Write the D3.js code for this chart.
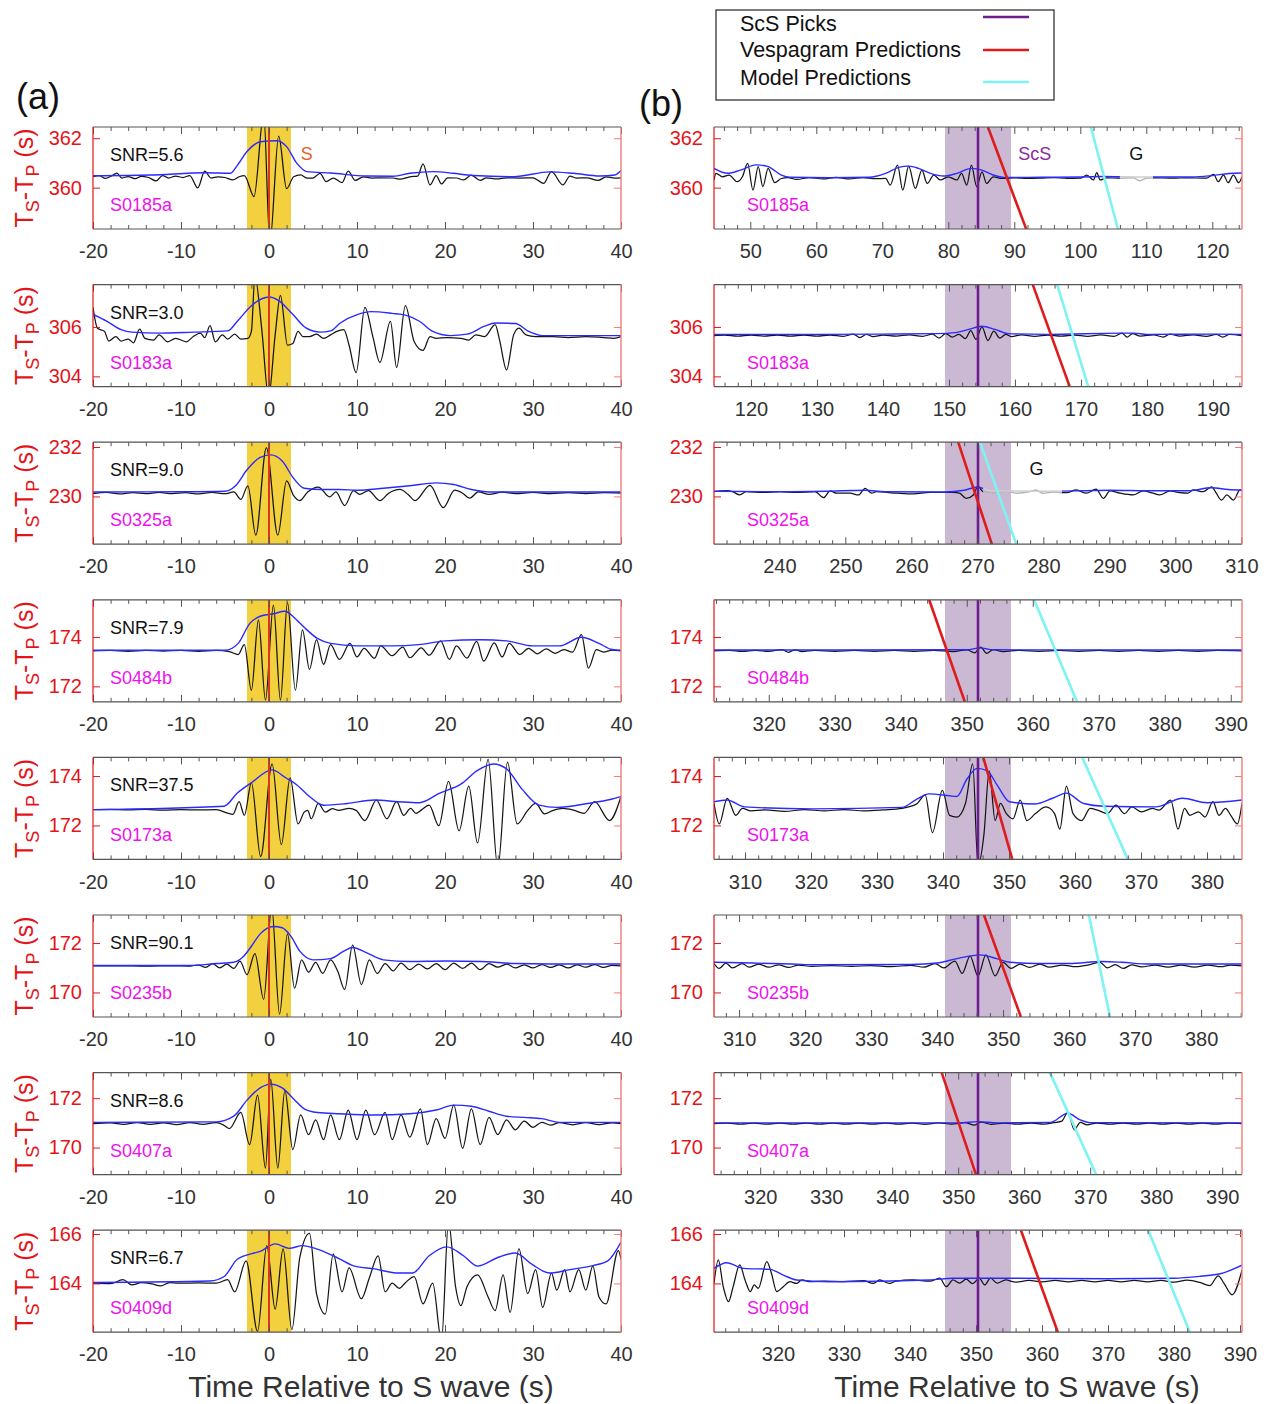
<!DOCTYPE html>
<html><head><meta charset="utf-8">
<script src="https://cdn.jsdelivr.net/npm/d3@7"></script>
<style>body{margin:0;background:#fff;} svg{display:block;font-family:"Liberation Sans",Arial,Helvetica,sans-serif;}</style>
</head><body><svg id="chart" width="1270" height="1404"></svg>
<script>
// ---------------- DATA ----------------
const stations = ["S0185a","S0183a","S0325a","S0484b","S0173a","S0235b","S0407a","S0409d"];
const snrValues = ["5.6","3.0","9.0","7.9","37.5","90.1","8.6","6.7"];
const tsTp = [360.39,305.65,230.13,173.44,172.69,171.07,170.97,164.09];
const yTickValues = [[360,362],[304,306],[230,232],[172,174],[172,174],[170,172],[170,172],[164,166]];
const leftXTicks = [-20,-10,0,10,20,30,40];
const rightXTicks = [
  [50,60,70,80,90,100,110,120],[120,130,140,150,160,170,180,190],
  [240,250,260,270,280,290,300,310],[320,330,340,350,360,370,380,390],
  [310,320,330,340,350,360,370,380],[310,320,330,340,350,360,370,380],
  [320,330,340,350,360,370,380,390],[320,330,340,350,360,370,380,390]];
const sWindow = [-2.5,2.5];
const sTime = 0;
const scsPick = [84.5,154.4,270.1,351.7,345.3,346.2,353.0,350.3];
const scsHalfWindow = 5;
const vespaPred = [[86.0,91.8],[162.7,168.3],[267.1,272.2],[344.3,349.7],[346.1,350.5],[347.1,352.7],[347.5,352.7],[356.8,362.4]];
const modelPred = [[101.6,105.7],[166.4,171.1],[270.4,275.9],[360.2,366.7],[361.1,368.0],[363.0,366.2],[363.9,370.9],[376.1,382.4]];
const grayWindow = [[106,111],null,[270.9,282.8],null,null,null,null,null];
const waveLabels = [
  {row:0, side:"L", t:3.6, text:"S", color:"#e8602c"},
  {row:0, side:"R", t:90.6, text:"ScS", color:"#8a2b9c"},
  {row:0, side:"R", t:107.4, text:"G", color:"#111"},
  {row:2, side:"R", t:277.9, text:"G", color:"#111"}];
const legendItems = ["ScS Picks","Vespagram Predictions","Model Predictions"];
const legendColors = ["#6c1d8e","#e01b1b","#7ff3f3"];

// left traces: [time, amplitude relative to Ts-Tp]
const L1 = [[-20,0.05],[-19.3,0.1],[-18.6,-0.02],[-17.9,0.08],[-17.3,0.2],[-16.7,0],[-16,0.06],[-15.2,-0.03],[-14.5,0.07],[-13.7,0.02],[-12.8,-0.12],[-12.1,0.1],[-11.4,0],[-10.6,0.08],[-9.8,0.02],[-9,0.1],[-8.1,-0.4],[-7.3,0.28],[-6.6,0],[-5.8,0.05],[-5,0.02],[-4.1,-0.08],[-3.4,0.05],[-2.8,0.1],[-1.7,-0.75],[-0.6,2.6],[0.1,-2.6],[1.1,1.7],[2,-0.43],[2.8,0.05],[3.6,0.13],[4.3,0],[5,0],[5.8,0.19],[6.5,-0.15],[7.3,0],[8.3,-0.19],[9,0.28],[9.8,-0.1],[10.7,0.05],[11.7,0],[12.6,0.01],[14.1,0],[14.9,-0.05],[16,0.05],[16.9,0.08],[17.5,0.57],[18.3,-0.28],[19,0.1],[19.6,-0.24],[20.3,0.01],[21.3,0],[22.1,-0.08],[23,0.12],[24,-0.1],[24.7,0.01],[25.9,-0.04],[27,0.01],[28.5,0],[30,0.01],[31.2,-0.22],[32.1,0.26],[33.4,-0.28],[34.2,0.08],[34.9,0],[36.1,0.01],[37.4,-0.1],[38.3,0.05],[39.3,0],[40,0.01]];
const LE1 = [[-20,0.09],[-13.5,0.12],[-7.1,0.21],[-4.4,0.19],[-3.7,0.46],[-2.5,1.07],[-1,1.47],[0.9,1.51],[2,1.27],[3.15,0.6],[4.3,0.26],[7,0.2],[11.1,0.08],[14.1,0.07],[16,0.19],[18.7,0.26],[20.9,0.19],[23.2,0.1],[27.8,0.05],[31.9,0.25],[34.6,0.19],[37.6,0.08],[39.3,0.12],[40,0.3]];
const L2 = [[-20,1.14],[-19.5,0.3],[-18.7,0.17],[-18.2,-0.22],[-17.4,-0.04],[-16.8,-0.22],[-16,-0.14],[-15.4,-0.29],[-14.7,0.26],[-14.1,-0.11],[-13.1,-0.18],[-12.5,0.03],[-11.5,-0.25],[-10.6,-0.11],[-9.4,-0.25],[-8.6,-0.04],[-7.8,0.1],[-7.3,-0.08],[-6.7,0.4],[-6.1,-0.25],[-5.3,0.03],[-4.7,-0.14],[-3.9,0.06],[-3.2,-0.14],[-2.4,-0.11],[-2,0.17],[-1.6,2.4],[-0.8,0.17],[-0.05,-2.5],[0.7,0.03],[1.3,1.63],[2.1,-0.39],[2.7,-0.32],[3.3,0.17],[3.85,-0.04],[4.6,-0.04],[5.4,0.06],[6.2,-0.11],[7,0.03],[7.7,0.17],[8.5,0.24],[9.1,-0.39],[9.9,-1.5],[10.9,1.14],[11.8,-0.04],[12.6,-1.08],[13.8,0.58],[14.5,-1.29],[15.5,1.21],[16.5,-0.25],[17.5,-0.6],[18.3,-0.04],[19,-0.11],[20.2,-0.08],[21.8,-0.11],[22.7,-0.18],[23.5,0.03],[24.5,-0.04],[25.7,0.44],[26.2,-0.18],[27,-1.39],[27.8,0.03],[28.4,0.3],[29.2,0.03],[30.3,-0.04],[32.3,-0.04],[34,-0.08],[36,-0.04],[38,-0.08],[39.2,-0.11],[40,-0.04]];
const LE2 = [[-20,0.86],[-18.4,0.58],[-16.8,0.24],[-15.6,0.14],[-12.5,0.1],[-8.6,0.14],[-4.7,0.19],[-3.6,0.58],[-2,1.21],[0,1.56],[1.1,1.42],[2.7,0.86],[4.2,0.31],[5.8,0.14],[7,0.19],[8.1,0.51],[10.1,0.86],[11.6,0.97],[14,0.9],[15.5,0.83],[17.1,0.58],[18.6,0.17],[20.6,0],[22.5,0.06],[24.5,0.38],[25.7,0.51],[28,0.49],[29.5,0.17],[31.1,0],[34,0],[40,0]];
const L3 = [[-20,-0.02],[-18.5,0.03],[-17,-0.03],[-15.5,0.02],[-14,-0.02],[-12.5,0.03],[-11,-0.02],[-9.5,0.02],[-8,-0.03],[-6.5,0.03],[-5,-0.02],[-4,0.05],[-3.2,-0.25],[-2.4,0.3],[-1.5,-1.7],[-0.3,1.85],[1,-1.7],[2,0.5],[2.8,-0.1],[3.5,-0.3],[4.4,0.05],[5.6,0.25],[6.9,-0.15],[7.6,0.05],[8.6,-0.5],[9.6,0.1],[10.3,-0.05],[11.3,0.1],[12.6,-0.3],[13.6,0],[14.9,0.15],[15.8,-0.05],[16.6,-0.3],[18.3,0.32],[19.8,-0.58],[21.1,0.12],[22,0],[22.8,-0.2],[23.8,0.05],[25,-0.05],[26.5,0.04],[28,-0.02],[30,0.03],[32,-0.02],[34,0.02],[36,-0.02],[38,0.02],[40,0]];
const LE3 = [[-20,0.05],[-10,0.06],[-5,0.08],[-3.8,0.3],[-2.5,0.95],[-1,1.45],[0.2,1.55],[1.5,1.3],[2.8,0.6],[4,0.2],[6,0.15],[8,0.15],[10,0.12],[13,0.2],[16,0.3],[19,0.42],[21,0.35],[23,0.15],[25,0.05],[30,0.05],[40,0.05]];
const L4 = [[-20,0],[-18,0.02],[-16,-0.02],[-14,0.02],[-12,-0.01],[-10,0.02],[-8,-0.02],[-6,0.02],[-4.5,-0.03],[-3.5,-0.15],[-2.8,0.25],[-2,-1.6],[-1.2,1.25],[-0.4,-2],[0.5,1.85],[1.3,-2],[2.1,1.95],[3,-1.6],[3.8,0.85],[4.6,-0.75],[5.4,0.45],[6.2,-0.55],[7,0.25],[8,-0.35],[9.2,0.3],[10,-0.25],[10.8,0.1],[12,-0.3],[12.7,0.2],[14,-0.2],[15.2,0.15],[16,-0.28],[17.3,0.12],[18.2,-0.18],[19.5,0.4],[20.5,-0.35],[21.3,0.2],[22.5,-0.3],[23.6,0.38],[24.4,-0.42],[25.6,0.32],[26.5,-0.25],[27.3,0.3],[28.5,-0.15],[29.5,0.1],[30.5,-0.12],[31.5,0.08],[32.5,-0.1],[33.5,0.05],[34.5,-0.05],[35.5,0.65],[36.3,-0.7],[37.2,0.05],[38,-0.05],[39,0.03],[40,0]];
const LE4 = [[-20,0.02],[-5,0.02],[-3.5,0.3],[-2.2,1.1],[-1,1.4],[0.5,1.5],[1.8,1.6],[3,1.3],[4,0.95],[5.5,0.5],[7,0.3],[10,0.2],[14,0.2],[17,0.25],[20,0.4],[24,0.45],[27,0.4],[30,0.2],[33,0.2],[35.5,0.55],[37.5,0.3],[39,0.05],[40,0.02]];
const L5 = [[-20,-0.05],[-18,-0.04],[-16,-0.06],[-14,-0.04],[-12,-0.07],[-10,-0.05],[-8,-0.06],[-6,-0.05],[-4.7,-0.19],[-4.1,-0.24],[-3.4,0.27],[-2.8,-0.28],[-2,1.04],[-0.95,-1.95],[0.35,1.8],[1.4,-1.47],[2.4,1.24],[3.3,-0.63],[4,-0.15],[4.4,-0.08],[4.8,-0.42],[5.6,0.2],[6.4,-0.15],[7.2,-0.01],[7.9,-0.08],[9.1,0],[9.9,-0.08],[10.9,-0.49],[12.2,0.34],[13.4,-0.42],[14.5,0.27],[15.3,-0.28],[16.1,0],[16.7,-0.2],[17.3,-0.07],[18.2,0.13],[19.3,-0.7],[20.4,1.09],[21.6,-0.91],[22.7,0.9],[23.7,-1.4],[24.9,1.98],[26,-2.4],[27.1,1.87],[28.2,-0.63],[29.4,-0.08],[30.3,0.2],[31.3,-0.22],[32.3,-0.08],[33.4,0],[34.6,-0.07],[35.8,-0.2],[37,0.27],[38.7,-0.49],[40,0.48]];
const LE5 = [[-20,-0.05],[-5.1,0.09],[-3.6,0.62],[-2,1.04],[0.35,1.56],[1.9,1.24],[3.1,0.97],[4.6,0.48],[6.2,0.13],[8.9,0.2],[12,0.34],[14.7,0.27],[17.1,0.23],[19.4,0.62],[21.8,0.98],[23.7,1.54],[25.5,1.8],[27,1.6],[28.8,0.76],[30.7,0.13],[32.7,0.04],[36.2,0.2],[38.9,0.37],[40,0.48]];
const L6 = [[-20,0],[-17,0.01],[-14,-0.01],[-11,0.01],[-9,0],[-8,0.04],[-7.2,-0.06],[-6.4,0.1],[-5.6,-0.08],[-4.8,0.08],[-4,-0.1],[-3.3,0.2],[-2.5,-0.35],[-1.6,0.5],[-0.6,-1.35],[0.3,2.4],[1.2,-1.95],[2.1,1.3],[2.9,-0.9],[3.7,0.25],[4.5,-0.25],[5.3,0.15],[6.1,-0.3],[7,0.25],[7.8,-0.2],[8.6,-0.95],[9.5,0.85],[10.5,-0.75],[11.4,0.25],[12.3,-0.3],[13.2,0.1],[14.1,-0.2],[15,0.12],[16,-0.15],[17,0.08],[18,-0.12],[19,0.1],[20,-0.15],[21,0.12],[22,-0.1],[23,0.12],[24,-0.15],[25,0.1],[26,-0.05],[27,0.08],[28,-0.08],[29,0.05],[30,-0.08],[31,0.06],[32,-0.06],[33,0.05],[34,-0.08],[35,0.05],[36,-0.05],[37,0.06],[38,-0.06],[39,0.03],[40,0]];
const LE6 = [[-20,0.02],[-9,0.02],[-6,0.1],[-4,0.15],[-3,0.35],[-2,0.8],[-1,1.3],[0.5,1.6],[1.5,1.55],[2.5,1.2],[3.5,0.6],[5,0.25],[7,0.3],[8.5,0.6],[9.5,0.75],[11,0.55],[13,0.25],[16,0.18],[20,0.2],[24,0.18],[28,0.1],[32,0.08],[36,0.08],[40,0.08]];
const L7 = [[-20,0],[-18,0.03],[-16.5,-0.03],[-15,0.04],[-13.5,-0.03],[-12,0.03],[-10.5,-0.04],[-9,0.04],[-7.5,-0.03],[-6,0.04],[-5.2,-0.05],[-4.5,-0.2],[-3.2,0.45],[-2.2,-0.85],[-1.3,1.15],[-0.4,-1.8],[0.2,1.8],[1,-1.8],[1.8,1.35],[2.7,-1.05],[3.6,0.35],[4.5,-0.45],[5.3,0.15],[6.2,-0.65],[7,0.35],[8,-0.65],[9,0.55],[10,-0.65],[11,0.55],[12,-0.45],[13.2,0.45],[14,-0.65],[15,0.35],[16,-0.55],[17.2,0.6],[18,-0.85],[19,0.2],[20,-0.6],[21,0.75],[22,-1],[23,0.6],[24,-0.85],[25,0.25],[26,-0.45],[27,0.15],[28,-0.25],[29,0.1],[30,-0.15],[31,0.05],[32,-0.06],[33,0.04],[34.5,-0.05],[36,0.04],[37.5,-0.04],[39,0.03],[40,0]];
const LE7 = [[-20,0.05],[-6,0.07],[-4,0.3],[-2.5,0.95],[-1,1.45],[0.2,1.6],[1.5,1.45],[2.8,1],[4,0.6],[5.5,0.45],[8,0.4],[12,0.35],[16,0.4],[19,0.55],[21,0.75],[23,0.7],[25,0.5],[27,0.3],[29,0.25],[31,0.2],[33,0.05],[40,0.05]];
const L8 = [[-20,-0.08],[-18,-0.1],[-16.6,0.06],[-15.6,-0.15],[-14.5,-0.06],[-13.3,-0.11],[-12.3,-0.19],[-11.3,-0.06],[-10.2,-0.08],[-8,-0.07],[-6,-0.08],[-4.7,0.06],[-3.9,-0.43],[-2.6,0.82],[-1.3,-2.03],[-0.25,1.44],[0.7,-1.13],[1.6,1.31],[2.6,-1.96],[3.5,0.96],[4.6,1.94],[5.4,-0.5],[6.4,-1.33],[7.3,1.1],[8.3,-0.43],[9.1,0.54],[10.5,-0.71],[11.4,0.13],[12.4,1.03],[13.2,-0.43],[14,-0.08],[14.8,-0.29],[15.5,-0.06],[16.5,0.19],[17.5,-0.92],[18.6,-0.08],[19.6,-2.4],[20.4,2.4],[21.2,-0.22],[21.8,-0.99],[22.5,-0.22],[23.7,0.26],[24.9,-0.64],[25.7,-1.19],[26.6,0.26],[27.4,-1.26],[28.4,1.31],[29.4,-0.5],[30.3,0.47],[31.1,-1.06],[32.1,0.33],[32.7,-0.36],[33.6,0.47],[34.2,-0.43],[35.2,0.47],[36,-0.36],[36.8,0.61],[37.5,-0.64],[38.3,-0.92],[39.7,1.24],[40,0.89]];
const LE8 = [[-20,-0.05],[-6.7,0.01],[-5.1,0.19],[-3.6,0.89],[-0.8,1.24],[0.7,1.51],[2.3,1.33],[3.8,1.44],[5.4,1.31],[7.7,0.96],[9.7,0.61],[12,0.5],[14.7,0.33],[16.3,0.33],[18.2,1.03],[20.2,1.39],[22.1,1.03],[23.7,0.61],[26,0.96],[28,1.14],[29.9,0.68],[31.9,0.33],[34.2,0.47],[36.9,0.64],[38.5,0.82],[40,1.58]];

// right traces
const R1 = [[44.5,-0.08],[44.8,0.19],[45.8,0.05],[46.8,0.12],[48,-0.15],[48.8,0.05],[49.6,0.59],[50.4,-0.49],[51.2,0.46],[51.9,-0.35],[52.7,0.39],[53.7,-0.19],[54.7,-0.02],[55.7,0.02],[57,-0.06],[59,0.02],[61,-0.04],[63,0.03],[65,-0.04],[67,0.02],[69,-0.03],[70.5,-0.02],[71.2,-0.29],[72.3,0.52],[73.1,-0.49],[74,0.48],[75,-0.42],[76,0.32],[76.8,-0.22],[77.8,0.12],[78.8,-0.08],[80,0.05],[81.3,-0.08],[82,0.19],[82.8,-0.29],[83.5,0.52],[84.3,-0.35],[85.1,0.25],[85.8,-0.22],[86.8,0.05],[88.1,-0.02],[90,0.01],[92,-0.02],[93.9,-0.01],[96,0.02],[98,-0.02],[100,-0.01],[101,0.12],[102,-0.08],[102.5,0.22],[103,-0.08],[104,0.01],[106,-0.01],[108,0.01],[109,-0.11],[110,-0.01],[111,0.01],[114.1,-0.01],[116,0.01],[119.1,-0.01],[120.2,0.15],[120.9,-0.15],[121.7,0.12],[122.4,-0.19],[123.2,0.12],[124,-0.19],[124.5,0.05]];
const RE1 = [[44.5,0.39],[46.6,0.19],[48.5,0.32],[50.9,0.53],[52.7,0.46],[54.7,0.12],[56,0.03],[62,0.01],[68,0.03],[70.5,0.19],[72.5,0.43],[74,0.48],[75.5,0.39],[77.3,0.19],[79.3,0.08],[81.3,0.19],[83.5,0.39],[85.1,0.32],[86.8,0.12],[88.5,0.02],[94,0.03],[100,0.04],[103,0.06],[110,0.04],[117,0.04],[120,0.1],[122.5,0.18],[124.5,0.2]];
const R2 = [[114.4,0],[116,0.02],[118,-0.02],[120,0.02],[122,-0.02],[124,0.02],[126,-0.02],[128,0.02],[130,-0.02],[132,0.02],[134,-0.03],[135.5,0.06],[136.5,-0.08],[137.5,0.05],[138.5,-0.04],[140,0.02],[142,-0.02],[144,0.03],[146,-0.03],[147.5,0.06],[148.5,-0.1],[149.5,0.08],[150.5,-0.06],[151.5,0.05],[152.5,-0.12],[153.3,0.2],[154.1,-0.15],[155,0.35],[155.9,-0.2],[156.8,0.18],[157.7,-0.1],[158.6,0.05],[159.5,-0.04],[161,0.03],[163,-0.03],[165,0.02],[167,-0.02],[169,0.02],[171,-0.03],[173,0.03],[175,-0.03],[176.2,0.1],[177,-0.06],[177.8,0.08],[179,-0.02],[181,0.03],[182.5,-0.06],[183.5,0.06],[185,-0.02],[187,0.03],[189,-0.03],[190.5,0.05],[191.5,-0.06],[192.5,0.05],[194.4,0]];
const RE2 = [[114.4,0.05],[130,0.05],[140,0.06],[148,0.08],[151,0.12],[153,0.25],[155,0.38],[157,0.25],[159,0.08],[165,0.05],[176,0.1],[178,0.1],[180,0.05],[190,0.06],[194.4,0.05]];
const R3 = [[230.1,0.06],[232,0.1],[233,0.05],[234,-0.07],[235,0.06],[237.6,0.03],[240.1,0.06],[242.6,0.03],[245.4,0.06],[246.7,-0.18],[247.7,0.09],[248.7,0],[250.7,0],[252,-0.07],[253,0.2],[254,0],[254.7,0.06],[257.8,0],[260.3,-0.03],[262.8,0.03],[265.1,0.03],[266.3,0.03],[267.3,0],[268.3,-0.21],[269.4,-0.07],[270.1,0.29],[270.6,0.13],[270.9,0.06],[272.9,0.02],[274.4,0.09],[275.9,0],[277.9,0.06],[278.9,0.13],[279.9,0],[281.5,0.05],[282.7,0.02],[283.5,0.02],[285,0.13],[286.5,0],[288,0.16],[289.1,-0.21],[290.1,0.09],[291.6,0],[293.6,-0.07],[295.1,0.09],[296.6,0],[297.6,-0.07],[299.2,0.09],[300.7,0.02],[301.9,0],[302.7,0.13],[304.2,0.06],[305.5,0.26],[306.2,0],[307,-0.28],[307.8,-0.07],[308.8,-0.28],[309.8,0.13],[310.1,0.1]];
const RE3 = [[230.1,0.08],[240,0.06],[247,0.08],[253,0.12],[256,0.06],[265,0.05],[268,0.12],[270,0.25],[272,0.1],[280,0.08],[286,0.1],[290,0.12],[296,0.1],[302,0.1],[305.5,0.22],[308,0.15],[310.1,0.12]];
const R4 = [[311.7,0],[314,0.02],[316,-0.02],[318,0.02],[320,-0.02],[322,0.05],[323,-0.06],[324,0.04],[325,-0.03],[327,0.02],[330,-0.02],[333,0.02],[336,-0.02],[339,0.02],[342,-0.02],[345,0.02],[348,-0.03],[350,0.04],[351.2,-0.08],[352.1,0.15],[353,-0.1],[354,0.05],[355.5,-0.03],[358,0.02],[361,-0.02],[364,0.02],[367,-0.02],[370,0.02],[373,-0.02],[376,0.02],[379,-0.02],[382,0.02],[385,-0.02],[388,0.02],[391.7,0]];
const RE4 = [[311.7,0.03],[330,0.03],[350,0.04],[352,0.12],[354,0.04],[391.7,0.03]];
const R5 = [[305.3,0.2],[306.1,-0.63],[307.3,0.41],[308.6,-0.28],[309.6,0],[310.9,-0.1],[313,-0.06],[316,-0.12],[319,-0.05],[322,-0.1],[325,-0.05],[328,-0.1],[331,-0.06],[333.8,0],[334.8,0.06],[336.1,0.2],[337.3,0.55],[338.4,-0.98],[339.9,0.73],[341,-0.28],[342.1,-0.35],[343.4,0.2],[344.5,1.8],[345.3,-2.3],[346.2,-1.05],[347,1.52],[347.9,-0.49],[348.7,0.2],[349.6,-0.21],[350.6,-0.42],[351.7,0.34],[352.7,-0.49],[354,-0.21],[355.6,0.06],[356.9,-0.21],[357.7,-0.84],[358.7,0.9],[359.7,-0.21],[361,-0.49],[362.3,0],[363.4,-0.07],[364.9,-0.21],[366.2,0.13],[367.5,-0.21],[368.6,0.06],[370.1,-0.14],[371.7,0],[372.7,-0.07],[374.5,0.34],[375.6,-0.84],[376.6,0],[377.4,-0.28],[378.7,-0.14],[379.7,-0.35],[380.9,0.27],[381.8,-0.28],[382.8,0],[383.6,-0.28],[384.6,-0.63],[385.3,0.2]];
const RE5 = [[305.3,0.27],[307.3,0.34],[309.9,0.06],[320.3,-0.02],[333.8,0.04],[335.8,0.34],[337.9,0.59],[341,0.51],[342.1,0.48],[343.6,1.18],[345.2,1.62],[346.7,1.52],[348.3,0.9],[350.1,0.27],[354,0.18],[356.6,0.41],[358.7,0.62],[361.3,0.2],[364.4,0.09],[372.2,0.06],[376.3,0.41],[380,0.23],[385.3,0.34]];
const R6 = [[306.2,0.1],[307,-0.1],[308,0.12],[309,-0.08],[310.5,0.1],[311.5,-0.05],[313,0.08],[314.5,-0.05],[316,0.05],[317.5,-0.06],[319,0.04],[321,-0.02],[324,0.02],[327,-0.02],[330,0.02],[333,-0.03],[336,0.03],[338,-0.05],[339.7,0.1],[341,-0.08],[342.7,0.2],[343.8,-0.3],[345,0.4],[346.2,-0.4],[347.4,0.45],[348.8,-0.4],[350,0.15],[351.2,-0.1],[352.6,0.08],[354,-0.06],[355.6,0.08],[357,-0.05],[359,0.04],[361,-0.03],[363,0.05],[364.7,0.15],[365.8,-0.08],[367,0.06],[368.2,-0.1],[369.5,0.05],[371,-0.04],[373,0.04],[375,-0.05],[377,0.04],[379,-0.05],[381,0.04],[383,-0.03],[384.5,0.04],[386.2,0]];
const RE6 = [[306.2,0.15],[312,0.12],[318,0.08],[322,0.05],[336,0.06],[340,0.12],[343,0.3],[346.5,0.45],[349,0.3],[351,0.15],[355,0.1],[360,0.1],[365,0.18],[368,0.15],[372,0.08],[386.2,0.08]];
const R7 = [[313,0],[315,0.02],[317,-0.02],[319,0.02],[321,-0.02],[323,0.02],[325,-0.02],[327,0.02],[329,-0.02],[331,0.02],[333,-0.02],[335,0.02],[337,-0.02],[339,0.02],[341,-0.02],[343,0.02],[345,-0.03],[347,0.03],[349,-0.02],[351,0.04],[352.5,-0.06],[353.5,0.06],[355,-0.03],[357,0.02],[359,-0.02],[361,0.02],[363,-0.02],[364.5,0.04],[365.7,0.1],[366.6,0.45],[367.6,-0.25],[368.5,0.05],[369.5,-0.05],[371,0.02],[373,-0.02],[375,0.02],[377,-0.02],[379,0.02],[381,-0.02],[383,0.02],[385,-0.02],[387,0.02],[389,-0.02],[391,0.02],[393,0]];
const RE7 = [[313,0.03],[350,0.03],[353,0.08],[356,0.03],[364,0.05],[366.6,0.42],[368.5,0.15],[370,0.04],[393,0.03]];
const R8 = [[310.3,-0.09],[310.95,0.86],[311.7,-0.22],[312.5,-0.83],[313.2,-0.22],[314.2,0.66],[315,0.05],[315.8,-0.42],[316.4,-0.15],[317,-0.29],[318.3,0.79],[319,0.32],[319.8,-0.42],[320.8,-0.22],[321.8,-0.02],[322.8,-0.09],[323.6,0.05],[324.9,-0.02],[327,0],[330,-0.02],[333,0.02],[334.4,-0.09],[335.4,0.05],[336.9,-0.09],[337.9,0],[340.4,0.05],[343,0],[344.5,0.12],[345.5,-0.22],[346.5,0.05],[347.5,-0.08],[348.5,0.08],[349.5,-0.1],[350.5,0.12],[351.3,-0.15],[352.2,0.12],[353.2,-0.08],[354.5,0.05],[356,-0.04],[358,0.03],[360,-0.03],[362,0.03],[364,-0.03],[366,0.03],[368,-0.03],[370,0.03],[372,-0.03],[374,0.03],[376,-0.03],[378,0.03],[380,-0.04],[382,0.04],[383.9,-0.05],[385.4,-0.18],[386.7,0.22],[387.6,-0.1],[388.8,-0.55],[390.3,0.45]];
const RE8 = [[310.3,0.52],[312.2,0.75],[314.8,0.52],[318.8,0.48],[320.8,0.25],[322.8,0.05],[327.8,-0.02],[343,0.05],[346.5,0.12],[355,0.12],[370,0.1],[380,0.12],[384,0.2],[387,0.3],[390.3,0.65]];

const leftTraces = [L1,L2,L3,L4,L5,L6,L7,L8];
const leftEnvs = [LE1,LE2,LE3,LE4,LE5,LE6,LE7,LE8];
const rightTraces = [R1,R2,R3,R4,R5,R6,R7,R8];
const rightEnvs = [RE1,RE2,RE3,RE4,RE5,RE6,RE7,RE8];

// ---------------- DRAWING ----------------
const svg = d3.select("#chart");
const defs = svg.append("defs");
const PH = 102, TOP0 = 127, ROWSTEP = 157.6, HALF = 2.065;
const FONT_TICK = 20;
const RED = "#e3151a";

function drawPanel(i, side) {
  const top = TOP0 + ROWSTEP * i, bot = top + PH;
  const x0 = side === "L" ? 93 : 714, x1 = side === "L" ? 621 : 1242;
  const b = tsTp[i];
  const y = d3.scaleLinear().domain([b - HALF, b + HALF]).range([bot, top]);
  const dom = side === "L" ? [-20, 40] : [scsPick[i] - 40, scsPick[i] + 40];
  const x = d3.scaleLinear().domain(dom).range([x0, x1]);
  const id = "clip" + side + i;
  defs.append("clipPath").attr("id", id).append("rect")
    .attr("x", x0).attr("y", top).attr("width", x1 - x0).attr("height", PH);
  const g = svg.append("g");
  const pg = g.append("g").attr("clip-path", `url(#${id})`);

  const win = side === "L" ? sWindow : [scsPick[i] - scsHalfWindow, scsPick[i] + scsHalfWindow];
  pg.append("rect").attr("x", x(win[0])).attr("y", top)
    .attr("width", x(win[1]) - x(win[0])).attr("height", PH)
    .attr("fill", side === "L" ? "#f3d03e" : "#cbb9d4");

  const line = d3.line().x(d => x(d[0])).y(d => y(b + d[1])).curve(d3.curveMonotoneX);
  const tr = side === "L" ? leftTraces[i] : rightTraces[i];
  const en = side === "L" ? leftEnvs[i] : rightEnvs[i];
  const gw = side === "R" ? grayWindow[i] : null;

  // black trace / blue envelope, with an optional grey (masked) window
  let normalClip = `url(#${id})`;
  if (gw) {
    const nid = "nclip" + i, gid = "gclip" + i;
    const nc = defs.append("clipPath").attr("id", nid);
    nc.append("rect").attr("x", x0).attr("y", top).attr("width", x(gw[0]) - x0).attr("height", PH);
    nc.append("rect").attr("x", x(gw[1])).attr("y", top).attr("width", x1 - x(gw[1])).attr("height", PH);
    defs.append("clipPath").attr("id", gid).append("rect")
      .attr("x", x(gw[0])).attr("y", top).attr("width", x(gw[1]) - x(gw[0])).attr("height", PH);
    const ng = pg.append("g").attr("clip-path", `url(#${nid})`);
    ng.append("path").attr("d", line(tr)).attr("fill", "none").attr("stroke", "#151515").attr("stroke-width", 1.25);
    ng.append("path").attr("d", line(en)).attr("fill", "none").attr("stroke", "#2a2aff").attr("stroke-width", 1.4);
    const gg = pg.append("g").attr("clip-path", `url(#${gid})`);
    gg.append("path").attr("d", line(tr)).attr("fill", "none").attr("stroke", "#b5b5b5").attr("stroke-width", 1.4);
    gg.append("path").attr("d", line(en)).attr("fill", "none").attr("stroke", "#cfcfcf").attr("stroke-width", 1.4);
  } else {
    pg.append("path").attr("d", line(tr)).attr("fill", "none").attr("stroke", "#151515").attr("stroke-width", 1.25);
    pg.append("path").attr("d", line(en)).attr("fill", "none").attr("stroke", "#2a2aff").attr("stroke-width", 1.4);
  }

  if (side === "L") {
    pg.append("line").attr("x1", x(sTime)).attr("x2", x(sTime)).attr("y1", top).attr("y2", bot)
      .attr("stroke", "#d9381e").attr("stroke-width", 2);
  } else {
    const yTop = b + HALF, yBot = b - HALF;
    pg.append("line").attr("x1", x(scsPick[i])).attr("x2", x(scsPick[i])).attr("y1", top).attr("y2", bot)
      .attr("stroke", legendColors[0]).attr("stroke-width", 2.6);
    pg.append("line").attr("x1", x(vespaPred[i][0])).attr("y1", y(yTop))
      .attr("x2", x(vespaPred[i][1])).attr("y2", y(yBot))
      .attr("stroke", legendColors[1]).attr("stroke-width", 2.6);
    pg.append("line").attr("x1", x(modelPred[i][0])).attr("y1", y(yTop))
      .attr("x2", x(modelPred[i][1])).attr("y2", y(yBot))
      .attr("stroke", legendColors[2]).attr("stroke-width", 2.6);
  }

  // x axes
  const majors = side === "L" ? leftXTicks : rightXTicks[i];
  const minorAll = d3.range(Math.ceil(dom[0] / 2) * 2, dom[1] + 0.001, 2).filter(v => v % 10 !== 0);
  const axB = g.append("g").attr("transform", `translate(0,${bot})`)
    .call(d3.axisBottom(x).tickValues(majors).tickSize(-7).tickPadding(15).tickFormat(d3.format("d")));
  axB.select(".domain").remove();
  axB.selectAll("line").attr("stroke", "#555");
  axB.selectAll("text").attr("font-size", FONT_TICK).attr("fill", "#333").attr("font-family", "Liberation Sans, Arial, sans-serif")
    .text(d => d < 0 ? "-" + Math.abs(d) : d);
  const axBm = g.append("g").attr("transform", `translate(0,${bot})`)
    .call(d3.axisBottom(x).tickValues(minorAll).tickSize(-4).tickFormat(""));
  axBm.select(".domain").remove();
  axBm.selectAll("line").attr("stroke", "#555");
  [majors, minorAll].forEach((vals, k) => {
    const axT = g.append("g").attr("transform", `translate(0,${top})`)
      .call(d3.axisTop(x).tickValues(vals).tickSize(k === 0 ? -7 : -4).tickFormat(""));
    axT.select(".domain").remove();
    axT.selectAll("line").attr("stroke", "#555");
  });

  // y axes
  const axL = g.append("g").attr("transform", `translate(${x0},0)`)
    .call(d3.axisLeft(y).tickValues(yTickValues[i]).tickSize(-7).tickPadding(11).tickFormat(d3.format("d")));
  axL.select(".domain").remove();
  axL.selectAll("line").attr("stroke", RED);
  axL.selectAll("text").attr("font-size", FONT_TICK).attr("fill", RED).attr("font-family", "Liberation Sans, Arial, sans-serif");
  const axR = g.append("g").attr("transform", `translate(${x1},0)`)
    .call(d3.axisRight(y).tickValues(yTickValues[i]).tickSize(-7).tickFormat(""));
  axR.select(".domain").remove();
  axR.selectAll("line").attr("stroke", "#f07a7a");

  // spines
  g.append("line").attr("x1", x0).attr("x2", x1).attr("y1", top).attr("y2", top).attr("stroke", "#555").attr("stroke-width", 1.2);
  g.append("line").attr("x1", x0).attr("x2", x1).attr("y1", bot).attr("y2", bot).attr("stroke", "#555").attr("stroke-width", 1.2);
  g.append("line").attr("x1", x0).attr("x2", x0).attr("y1", top).attr("y2", bot).attr("stroke", RED).attr("stroke-width", 1.2);
  g.append("line").attr("x1", x1).attr("x2", x1).attr("y1", top).attr("y2", bot).attr("stroke", "#f07a7a").attr("stroke-width", 1.4);

  // labels
  if (side === "L") {
    g.append("text").attr("x", 110).attr("y", top + 34).attr("font-size", 18).attr("fill", "#111")
      .text("SNR=" + snrValues[i]);
    const yl = g.append("text").attr("transform", `translate(33,${top + 51}) rotate(-90)`)
      .attr("text-anchor", "middle").attr("font-size", 25).attr("fill", RED);
    yl.append("tspan").text("T");
    yl.append("tspan").attr("font-size", 18).attr("dy", 6).text("S");
    yl.append("tspan").attr("dy", -6).text("-T");
    yl.append("tspan").attr("font-size", 18).attr("dy", 6).text("P");
    yl.append("tspan").attr("dy", -6).text(" (s)");
  }
  g.append("text").attr("x", side === "L" ? 110 : 747).attr("y", top + 84).attr("font-size", 18)
    .attr("fill", "#ee11ee").text(stations[i]);

  waveLabels.filter(w => w.row === i && w.side === side).forEach(w => {
    g.append("text").attr("x", x(w.t)).attr("y", top + 33).attr("font-size", 18)
      .attr("fill", w.color).text(w.text);
  });
}

for (let i = 0; i < 8; i++) { drawPanel(i, "L"); drawPanel(i, "R"); }

// panel tags
svg.append("text").attr("x", 16).attr("y", 109).attr("font-size", 36).attr("fill", "#111").text("(a)");
svg.append("text").attr("x", 639).attr("y", 116).attr("font-size", 36).attr("fill", "#111").text("(b)");

// x-axis titles
[371, 1017].forEach(cx => {
  svg.append("text").attr("x", cx).attr("y", 1397).attr("text-anchor", "middle")
    .attr("font-size", 30).attr("fill", "#333").text("Time Relative to S wave (s)");
});

// legend
const lg = svg.append("g");
lg.append("rect").attr("x", 716).attr("y", 10).attr("width", 338).attr("height", 90)
  .attr("fill", "#fff").attr("stroke", "#222").attr("stroke-width", 1.2);
const legY = [17, 50, 82];
const legTextY = [31, 57, 85];
legendItems.forEach((t, k) => {
  lg.append("text").attr("x", 740).attr("y", legTextY[k]).attr("font-size", 21.5).attr("fill", "#111").text(t);
  lg.append("line").attr("x1", 983).attr("x2", 1029).attr("y1", legY[k]).attr("y2", legY[k])
    .attr("stroke", legendColors[k]).attr("stroke-width", 2.6);
});
</script>
</body></html>
